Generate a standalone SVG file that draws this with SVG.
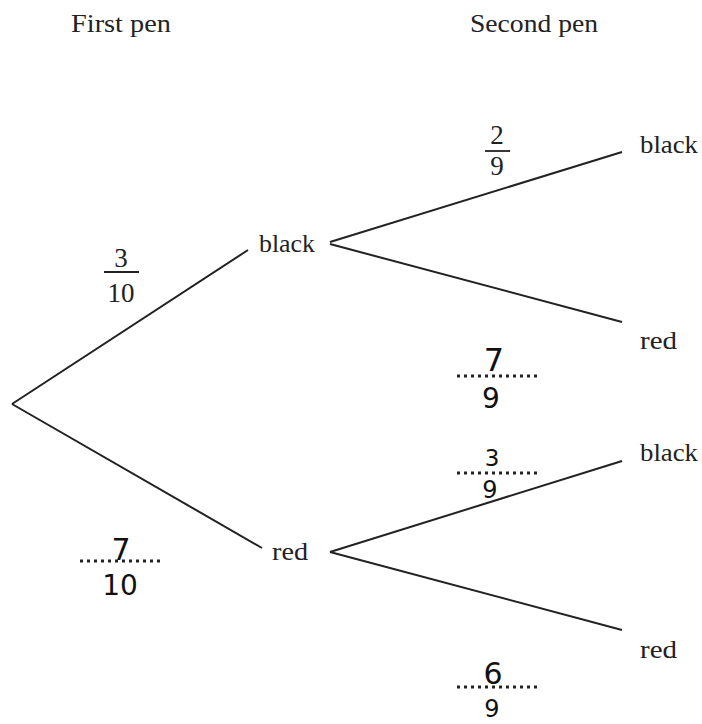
<svg xmlns="http://www.w3.org/2000/svg" width="702" height="724" viewBox="0 0 702 724">
<style>
.t{font-family:"Liberation Serif","DejaVu Serif",serif;font-size:26px;fill:#222}
.h{font-family:"Liberation Serif","DejaVu Serif",serif;font-size:26px;fill:#222}
.f{font-family:"Liberation Serif","DejaVu Serif",serif;font-size:27px;fill:#222;text-anchor:middle}
.w{font-family:"DejaVu Sans","Liberation Sans",sans-serif;font-size:28px;fill:#111;text-anchor:middle}
.e{stroke:#222;stroke-width:2;fill:none}
.bar{stroke:#222;stroke-width:1.8}
.dot{stroke:#222;stroke-width:3;stroke-dasharray:3 4}
</style>
<rect width="702" height="724" fill="#fff"/>
<text class="h" x="71" y="32" textLength="100" lengthAdjust="spacingAndGlyphs">First pen</text>
<text class="h" x="470" y="32" textLength="128" lengthAdjust="spacingAndGlyphs">Second pen</text>
<g id="connectors">
<line class="e" x1="12" y1="404" x2="248" y2="250"/>
<line class="e" x1="12" y1="404" x2="262" y2="548"/>
<line class="e" x1="330" y1="242" x2="622" y2="152"/>
<line class="e" x1="330" y1="244" x2="622" y2="322"/>
<line class="e" x1="330" y1="552" x2="622" y2="461"/>
<line class="e" x1="330" y1="552" x2="622" y2="630"/>
</g>
<g id="n-black1"><text class="t" x="259" y="252" textLength="56" lengthAdjust="spacingAndGlyphs">black</text></g>
<g id="n-red1"><text class="t" x="272" y="560" textLength="36" lengthAdjust="spacingAndGlyphs">red</text></g>
<g id="n-bb"><text class="t" x="640" y="153" textLength="58" lengthAdjust="spacingAndGlyphs">black</text></g>
<g id="n-br"><text class="t" x="640" y="349" textLength="37" lengthAdjust="spacingAndGlyphs">red</text></g>
<g id="n-rb"><text class="t" x="640" y="461" textLength="58" lengthAdjust="spacingAndGlyphs">black</text></g>
<g id="n-rr"><text class="t" x="640" y="658" textLength="37" lengthAdjust="spacingAndGlyphs">red</text></g>
<g id="p-3-10">
<text class="f" x="121" y="267">3</text>
<line class="bar" x1="104" y1="272" x2="139" y2="272"/>
<text class="f" x="121" y="302">10</text>
</g>
<g id="p-2-9">
<text class="f" x="497" y="144">2</text>
<line class="bar" x1="485" y1="151" x2="510" y2="151"/>
<text class="f" x="497" y="175">9</text>
</g>
<g id="p-7-9">
<text class="w" x="494" y="371" style="font-size:32px">7</text>
<line class="dot" x1="457" y1="376" x2="541" y2="376"/>
<text class="w" x="491" y="408">9</text>
</g>
<g id="p-3-9">
<text class="w" x="492" y="466" style="font-size:23px">3</text>
<line class="dot" x1="457" y1="473" x2="541" y2="473"/>
<text class="w" x="490" y="498" style="font-size:24px">9</text>
</g>
<g id="p-7-10">
<text class="w" x="121" y="560" style="font-size:30px">7</text>
<line class="dot" x1="80" y1="561" x2="163" y2="561"/>
<text class="w" x="120" y="595">10</text>
</g>
<g id="p-6-9">
<text class="w" x="493" y="684" style="font-size:30px">6</text>
<line class="dot" x1="457" y1="687" x2="541" y2="687"/>
<text class="w" x="492" y="717" style="font-size:24px">9</text>
</g>
</svg>
